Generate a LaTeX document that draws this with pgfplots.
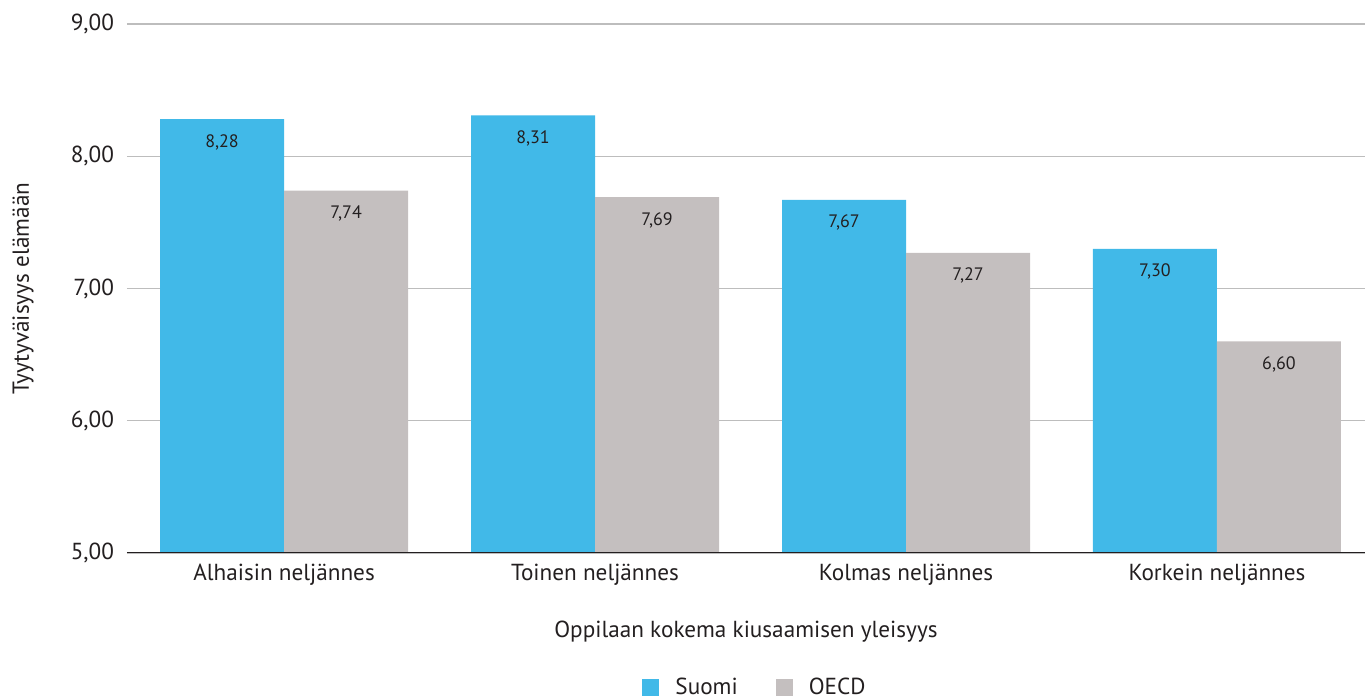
\documentclass[border=0pt]{standalone}
\usepackage{fontspec}
\setmainfont{PT Sans}
\usepackage{pgfplots}
\pgfplotsset{compat=1.18}
\definecolor{suomi}{HTML}{41B9E8}
\definecolor{oecd}{HTML}{C4BFBF}
\definecolor{gridc}{HTML}{BDBDBD}
\definecolor{axc}{HTML}{231F20}
\definecolor{txt}{HTML}{231F20}
\begin{document}
\begin{tikzpicture}
\path[use as bounding box] (-63.5pt,-73.5pt) rectangle (619pt,276.5pt);
\begin{axis}[
  scale only axis,
  width=619pt, height=264.5pt,
  ymin=5, ymax=9,
  xmin=-0.505, xmax=3.476,
  ytick={5,6,7,8,9},
  xtick={0,1,2,3},
  xticklabels={Alhaisin neljännes, Toinen neljännes, Kolmas neljännes, Korkein neljännes},
  major tick length=0pt,
  axis line style={draw=none},
  ymajorgrids,
  grid style={gridc, line width=0.6pt},
  ybar=0pt,
  bar width=62pt,
  font=\fontsize{11.6}{13.5}\selectfont,
  tick label style={text=txt},
  /pgf/number format/.cd, fixed, fixed zerofill, precision=2, use comma, assume math mode=true,
  /pgfplots/.cd,
  yticklabel style={xshift=-3pt},
  xticklabel style={yshift=-2pt},
  xlabel={Oppilaan kokema kiusaamisen yleisyys},
  xlabel style={at={(rel axis cs:0.5,-0.149)}, anchor=center, text=txt},
  ylabel={Tyytyväisyys elämään},
  ylabel style={at={(rel axis cs:-0.084,0.5)}, anchor=center, text=txt},
  nodes near coords,
  nodes near coords style={anchor=north, yshift=-4pt, font=\fontsize{9}{11}\selectfont, text=txt,
    /pgf/number format/.cd, fixed, fixed zerofill, precision=2, use comma, assume math mode=true},
  legend style={at={(rel axis cs:0.5,-0.255)}, anchor=center, xshift=5pt, draw=none, fill=none,
    legend columns=2, /tikz/every even column/.append style={column sep=17pt},
    /tikz/every odd column/.append style={column sep=6pt}, text=txt},
  legend image code/.code={\fill (0pt,-4.25pt) rectangle (8.5pt,4.25pt);},
]
\addplot[draw=none, fill=suomi] coordinates {(0,8.28) (1,8.31) (2,7.67) (3,7.30)};
\addplot[draw=none, fill=oecd] coordinates {(0,7.74) (1,7.69) (2,7.27) (3,6.60)};
\legend{Suomi, OECD}
\draw[axc, line width=1.1pt] (rel axis cs:0,0) -- (rel axis cs:1,0);
\end{axis}
\end{tikzpicture}
\end{document}
